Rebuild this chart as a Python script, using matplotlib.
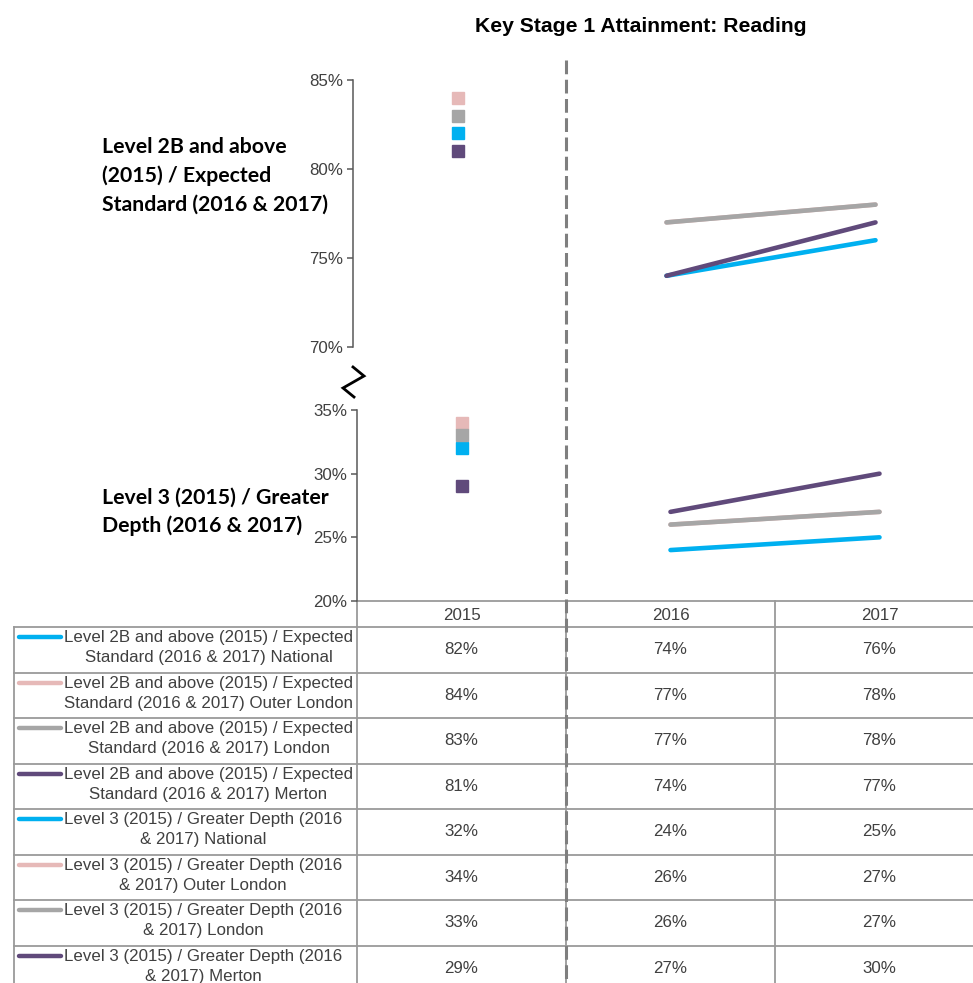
import matplotlib.pyplot as plt
from matplotlib.lines import Line2D

years = ['2015', '2016', '2017']
areas = ['National', 'Outer London', 'London', 'Merton']
colors = ['#00B0F0', '#E6B9B8', '#A6A6A6', '#604A7B']

# Level 2B and above (2015) / Expected Standard (2016 & 2017)
exp_national = [82, 74, 76]
exp_outer = [84, 77, 78]
exp_london = [83, 77, 78]
exp_merton = [81, 74, 77]

# Level 3 (2015) / Greater Depth (2016 & 2017)
gd_national = [32, 24, 25]
gd_outer = [34, 26, 27]
gd_london = [33, 26, 27]
gd_merton = [29, 27, 30]

exp_series = [exp_national, exp_outer, exp_london, exp_merton]
gd_series = [gd_national, gd_outer, gd_london, gd_merton]

exp_name = 'Level 2B and above (2015) / Expected\nStandard (2016 & 2017) '
gd_name = 'Level 3 (2015) / Greater Depth (2016\n& 2017) '

exp_label = ['Level 2B and above', '(2015) / Expected', 'Standard (2016 & 2017)']
gd_label = ['Level 3 (2015) / Greater', 'Depth (2016 & 2017)']

plt.rcParams['font.family'] = ['Liberation Sans', 'DejaVu Sans']

W, H = 973, 983
fig = plt.figure(figsize=(W / 100, H / 100), dpi=100)

def fx(px):
    return px / W

def fy(py):
    return 1 - py / H

col_w = 209
x0 = 357
fs = 12.2

# overlay in pixel coords for table and annotations
ov = fig.add_axes([0, 0, 1, 1], zorder=0)
ov.set_xlim(0, W)
ov.set_ylim(H, 0)
ov.axis('off')

ax_top = fig.add_axes([fx(353), fy(347), 3 * col_w / W, 267 / H], zorder=2)
ax_bot = fig.add_axes([fx(x0), fy(601), 3 * col_w / W, 191 / H], zorder=2)

tick_col = '#404040'
for ax, series, lo in [(ax_top, exp_series, 70), (ax_bot, gd_series, 20)]:
    ax.set_facecolor('none')
    for vals, c in zip(series, colors):
        ax.plot([0], [vals[0]], 's', color=c, markersize=8.5)
        ax.plot([1, 2], vals[1:], '-', color=c, lw=3.3, solid_capstyle='round')
    ax.set_xlim(-0.5, 2.5)
    ax.set_ylim(lo, lo + 15)
    ticks = [lo, lo + 5, lo + 10, lo + 15]
    ax.set_yticks(ticks)
    ax.set_yticklabels(['%d%%' % t for t in ticks], fontsize=fs, color=tick_col)
    ax.set_xticks([])
    for s in ['top', 'right', 'bottom']:
        ax.spines[s].set_visible(False)
    ax.spines['left'].set_color('#595959')
    ax.spines['left'].set_linewidth(1.1)
    ax.tick_params(axis='y', length=4, width=1.1, color='#595959', pad=3)

# title
ov.text(641, 27, 'Key Stage 1 Attainment: Reading', ha='center', va='center',
        fontsize=15.2, fontweight='bold', color='black')

# side labels, one text per line
for k, line in enumerate(exp_label):
    ov.text(102, 153 + k * 28.7, line, ha='left', va='baseline', fontsize=15.3,
            fontweight='bold', family='Lato', color='black')
for k, line in enumerate(gd_label):
    ov.text(102, 504 + k * 28.5, line, ha='left', va='baseline', fontsize=15.3,
            fontweight='bold', family='Lato', color='black')

# axis break mark
ov.plot([353, 364, 343, 354], [367, 376, 388, 397], color='black', lw=2,
        solid_joinstyle='miter')

# table
grid = '#9A9A9A'
row_h = 45.5
head_top, head_bot = 601, 627
ov.plot([x0, W], [head_top, head_top], color=grid, lw=1.3)
for i in range(9):
    y = head_bot + i * row_h
    ov.plot([14, W], [y, y], color=grid, lw=1.3)
ov.plot([14, 14], [head_bot, H], color=grid, lw=1.3)
for j in range(3):
    ov.plot([x0 + j * col_w] * 2, [head_top, H], color=grid, lw=1.3)

for j, yr in enumerate(years):
    ov.text(x0 + (j + 0.5) * col_w, (head_top + head_bot) / 2 + 1, yr,
            ha='center', va='center', fontsize=fs, color=tick_col)

rows = [(exp_name + a, v, c) for a, v, c in zip(areas, exp_series, colors)]
rows += [(gd_name + a, v, c) for a, v, c in zip(areas, gd_series, colors)]
for i, (name, vals, c) in enumerate(rows):
    top = head_bot + i * row_h
    yc = top + row_h / 2
    ov.plot([19, 61], [top + 10, top + 10], color=c, lw=3.2, solid_capstyle='round')
    ov.text(64, yc - 2, name, ha='left', va='center', multialignment='center',
            fontsize=fs, color=tick_col, linespacing=1.38)
    for j, v in enumerate(vals):
        ov.text(x0 + (j + 0.5) * col_w, yc, '%d%%' % v, ha='center', va='center',
                fontsize=fs, color=tick_col)

# dashed divider between 2015 and 2016
fig.add_artist(Line2D([fx(566), fx(566)], [fy(60), 0], color='#7F7F7F', lw=2.2,
                      linestyle=(0, (4.5, 1.8)), zorder=5))

fig.savefig('out.png', dpi=100)
